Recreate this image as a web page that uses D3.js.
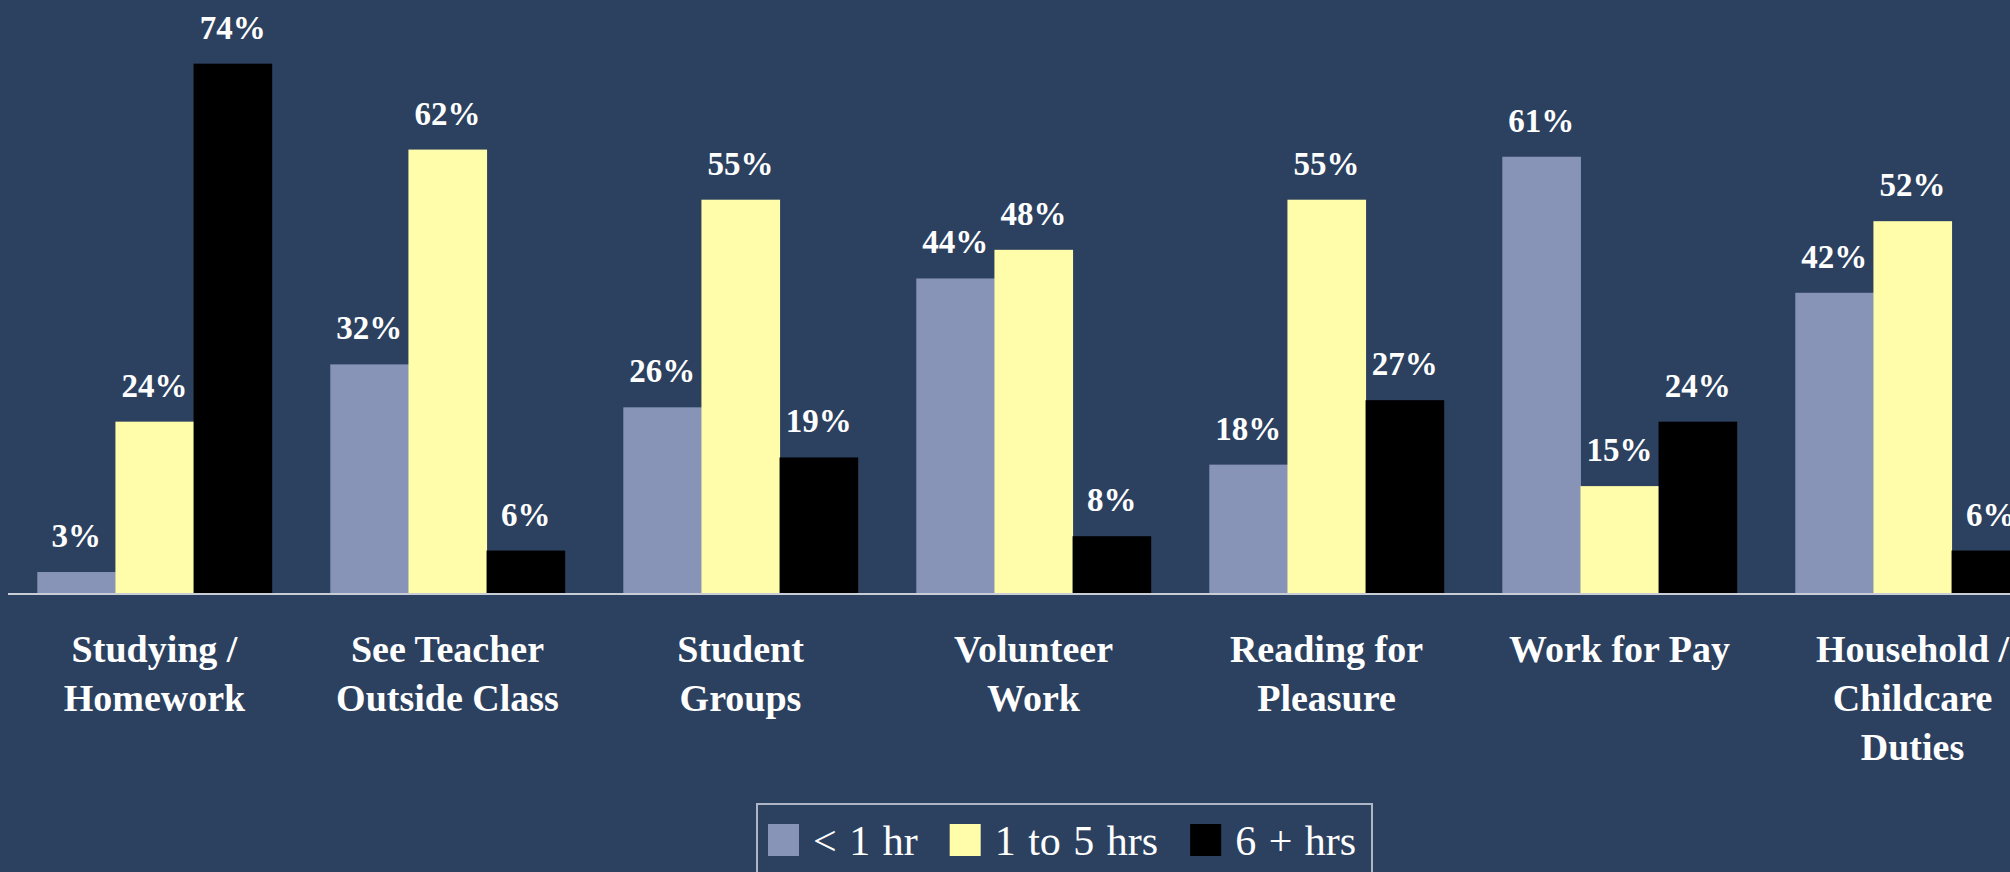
<!DOCTYPE html>
<html>
<head>
<meta charset="utf-8">
<script src="https://cdn.jsdelivr.net/npm/d3@7"></script>
<style>
  html, body { margin: 0; padding: 0; background: #2C4160; overflow: hidden; }
  svg { display: block; }
  text { font-family: "Liberation Serif", "Times New Roman", serif; fill: #FFFFFF; }
</style>
</head>
<body>
<svg id="chart" width="2010" height="872"></svg>
<script>
// ---- data ----
const categories = [
  ["Studying /", "Homework"],
  ["See Teacher", "Outside Class"],
  ["Student", "Groups"],
  ["Volunteer", "Work"],
  ["Reading for", "Pleasure"],
  ["Work for Pay"],
  ["Household /", "Childcare", "Duties"]
];
const seriesNames = ["< 1 hr", "1 to 5 hrs", "6 + hrs"];
const lessThan1 = [3, 32, 26, 44, 18, 61, 42];
const oneTo5 = [24, 62, 55, 48, 55, 15, 52];
const sixPlus = [74, 6, 19, 8, 27, 24, 6];
const seriesColors = ["#8794B8", "#FFFCAA", "#000000"];

// ---- build ----
const seriesValues = [lessThan1, oneTo5, sixPlus];
const catKeys = categories.map(c => c.join(" "));
const data = catKeys.map((k, i) => ({
  key: k, lines: categories[i],
  values: seriesNames.map((s, j) => ({ series: s, j, value: seriesValues[j][i] }))
}));

const svg = d3.select("#chart");
const baseline = 593.5;

const x0 = d3.scaleBand().domain(catKeys).range([8, 2059]).paddingInner(0.2).paddingOuter(0.1);
const x1 = d3.scaleBand().domain(seriesNames).range([0, x0.bandwidth()]).padding(0);
const y = d3.scaleLinear().domain([0, 100]).range([baseline, baseline - 716]);
const color = d3.scaleOrdinal().domain(seriesNames).range(seriesColors);

const groups = svg.append("g").selectAll("g.grp").data(data).join("g")
  .attr("class", "grp")
  .attr("transform", d => `translate(${x0(d.key)},0)`);

groups.selectAll("rect").data(d => d.values).join("rect")
  .attr("x", d => x1(d.series))
  .attr("width", x1.bandwidth() + 0.5)
  .attr("y", d => y(d.value))
  .attr("height", d => y(0) - y(d.value))
  .attr("fill", d => color(d.series));

groups.selectAll("text.val").data(d => d.values).join("text")
  .attr("class", "val")
  .attr("x", d => x1(d.series) + x1.bandwidth() / 2)
  .attr("y", d => y(d.value) - 25)
  .attr("text-anchor", "middle")
  .attr("font-size", 33)
  .attr("font-weight", "bold")
  .text(d => d.value + "%");

// axis line
svg.append("line")
  .attr("x1", x0.range()[0]).attr("x2", x0.range()[1])
  .attr("y1", baseline + 0.5).attr("y2", baseline + 0.5)
  .attr("stroke", "#C9CDD6").attr("stroke-width", 2);

// category labels
const catLabels = svg.append("g").selectAll("text.cat").data(data).join("text")
  .attr("class", "cat")
  .attr("text-anchor", "middle")
  .attr("font-size", 38)
  .attr("font-weight", "bold")
  .attr("x", d => x0(d.key) + x0.bandwidth() / 2)
  .attr("y", 662);
catLabels.selectAll("tspan").data(d => d.lines.map(l => ({ l, cx: x0(d.key) + x0.bandwidth() / 2 }))).join("tspan")
  .attr("x", d => d.cx)
  .attr("dy", (d, i) => i === 0 ? 0 : 49)
  .text(d => d.l);

// legend
const legend = svg.append("g");
legend.append("rect")
  .attr("x", 757).attr("y", 804).attr("width", 615).attr("height", 120)
  .attr("fill", "none").attr("stroke", "#AEB5C4").attr("stroke-width", 2);
let lx = 768;
seriesNames.forEach((s, i) => {
  legend.append("rect")
    .attr("x", lx).attr("y", 824).attr("width", 31).attr("height", 32)
    .attr("fill", color(s));
  const t = legend.append("text")
    .attr("x", lx + 45).attr("y", 855)
    .attr("font-size", 42)
    .attr("word-spacing", 2)
    .text(s);
  const w = t.node().getComputedTextLength();
  lx = lx + 45 + w + 32;
});
</script>
</body>
</html>
